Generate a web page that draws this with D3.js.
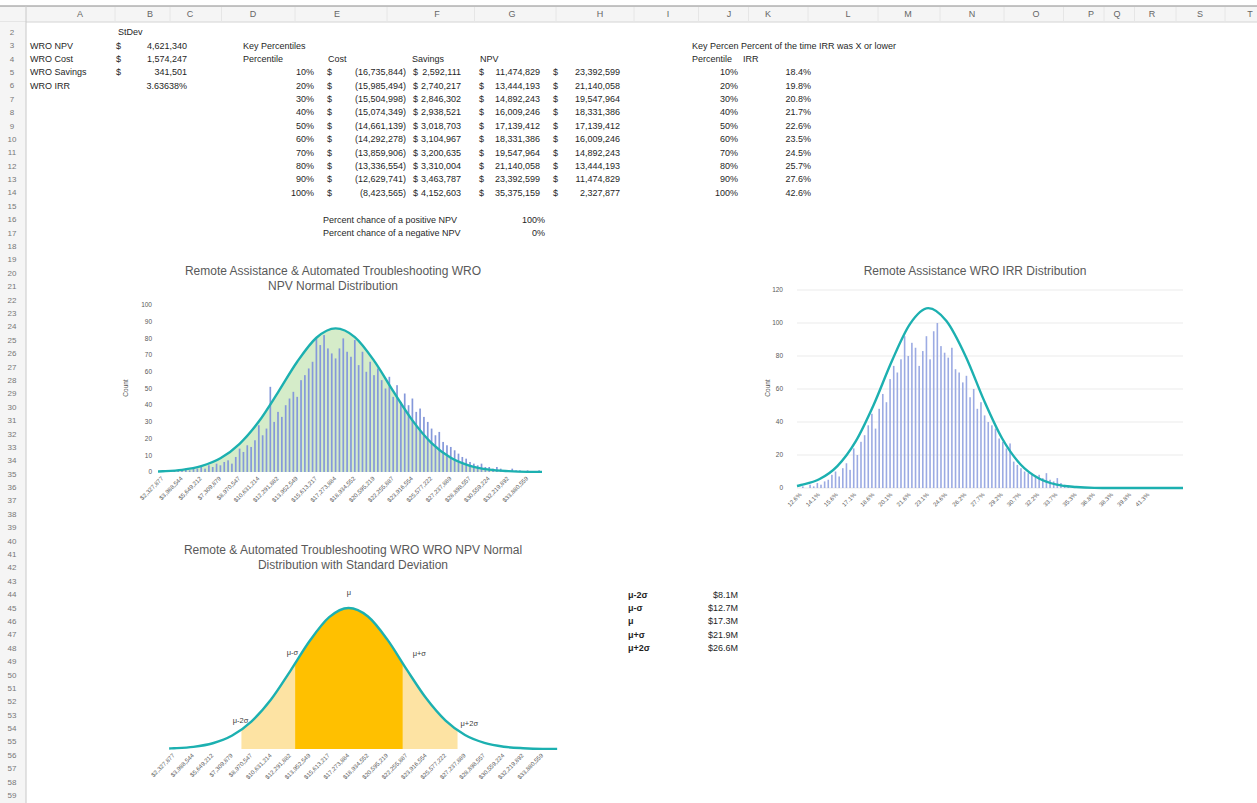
<!DOCTYPE html>
<html>
<head>
<meta charset="utf-8">
<script src="https://cdn.jsdelivr.net/npm/d3@7"></script>
<style>
  body { margin: 0; background: #fff; }
  text { font-family: "Liberation Sans", Arial, sans-serif; }
</style>
</head>
<body>
<svg id="sheet" width="1257" height="803"></svg>
<script>
// ---- sheet data ----
const columns = ["A","B","C","D","E","F","G","H","I","J","K","L","M","N","O","P","Q","R","S","T"];
const firstRow = 2, lastRow = 59;

const stdevLabels = ["WRO NPV", "WRO Cost", "WRO Savings", "WRO IRR"];
const stdevValues = [4621340, 1574247, 341501, 0.0363638];

const percentiles = [0.1, 0.2, 0.3, 0.4, 0.5, 0.6, 0.7, 0.8, 0.9, 1.0];
const costP = [-16735844, -15985494, -15504998, -15074349, -14661139, -14292278, -13859906, -13336554, -12629741, -8423565];
const savingsP = [2592111, 2740217, 2846302, 2938521, 3018703, 3104967, 3200635, 3310004, 3463787, 4152603];
const npvP = [11474829, 13444193, 14892243, 16009246, 17139412, 18331386, 19547964, 21140058, 23392599, 35375159];
const npvRevP = [23392599, 21140058, 19547964, 18331386, 17139412, 16009246, 14892243, 13444193, 11474829, 2327877];
const irrP = [0.184, 0.198, 0.208, 0.217, 0.226, 0.235, 0.245, 0.257, 0.276, 0.426];

const chanceLabels = ["Percent chance of a positive NPV", "Percent chance of a negative NPV"];
const chanceValues = [1, 0];

const sigmaLabels = ["μ-2σ", "μ-σ", "μ", "μ+σ", "μ+2σ"];
const sigmaValues = [8.1, 12.7, 17.3, 21.9, 26.6]; // $M

// ---- NPV histogram ----
const npvTicks = [2327877, 3988544, 5649212, 7309879, 8970547, 10631214, 12291882, 13952549, 15613217, 17273884,
  18934552, 20595219, 22255887, 23916554, 25577222, 27237889, 28898557, 30559224, 32219892, 33880559];
const npvBinStart = 2327877, npvBinWidth = 332133;
const npvCounts = [
  0, 1, 0, 1, 1, 1, 2, 1, 2, 2,
  3, 2, 4, 3, 5, 4, 6, 7, 5, 9,
  14, 12, 16, 15, 19, 28, 22, 26, 51, 30,
  36, 33, 40, 44, 48, 45, 55, 58, 62, 66,
  80, 76, 82, 74, 71, 68, 74, 80, 72, 69,
  79, 64, 72, 60, 66, 58, 62, 55, 50, 57,
  45, 52, 42, 47, 40, 44, 36, 38, 33, 30,
  26, 22, 24, 18, 16, 15, 13, 11, 9, 8,
  6, 5, 4, 5, 3, 3, 2, 3, 2, 1,
  1, 2, 1, 1, 0, 1, 0, 0, 1, 0
];
const npvCurveAt = [1912710].concat(npvTicks, [35126059]);
const npvCurve = [0.3, 0.44, 1.3, 3.5, 8.2, 16.9, 30.2, 47.7, 66.0, 80.4, 86.0, 80.8, 66.7, 48.4, 30.9, 17.3, 8.5, 3.7, 1.4, 0.5, 0.1, 0.05];

// ---- IRR histogram (percent) ----
const irrTicks = [12.6, 14.1, 15.6, 17.1, 18.6, 20.1, 21.6, 23.1, 24.6, 26.2, 27.7, 29.2, 30.7, 32.2, 33.7, 35.3, 36.8, 38.3, 39.8, 41.3];
const irrBinStart = 12.3, irrBinWidth = 0.3;
const irrCounts = [
  0, 1, 0, 2, 1, 3, 2, 4, 5, 8,
  10, 7, 12, 15, 11, 24, 20, 28, 32, 38,
  45, 36, 48, 57, 52, 66, 74, 70, 78, 92,
  80, 88, 85, 74, 83, 92, 78, 95, 100, 86,
  82, 79, 85, 72, 70, 64, 68, 55, 60, 48,
  52, 44, 40, 38, 36, 30, 28, 24, 27, 16,
  14, 12, 10, 9, 8, 7, 8, 6, 9, 5,
  4, 6, 3, 2, 1
];
const irrCurveAt = [12.27].concat(irrTicks, [44.12]);
const irrCurve = [1.2, 1.8, 5.3, 13.3, 28.1, 50.5, 77.0, 99.5, 109, 101.2, 79.6, 53.1, 30.0, 14.4, 5.9, 2.0, 0.6, 0.1, 0, 0, 0, 0];

// ---- layout ----
const svg = d3.select("#sheet");
const colCenters = [80, 150, 190, 253, 337, 437, 512, 600, 668, 729, 768, 848, 908, 972, 1036, 1091, 1117, 1152, 1200, 1250];
const rowY = r => 32 + (r - firstRow) * 13.39;
const ink = "#1f1f1f", grey = "#595959", teal = "#1cb0b0";
const fmt = d3.format(",");
const money = v => v < 0 ? `(${fmt(-v)})` : fmt(v);
const pct0 = d3.format(".0%"), pct1 = d3.format(".1%");

// header strip and row numbers
svg.append("rect").attr("x", 0).attr("y", 6).attr("width", 1257).attr("height", 16).attr("fill", "#f5f5f5");
svg.append("line").attr("x1", 0).attr("x2", 1257).attr("y1", 6).attr("y2", 6).attr("stroke", "#8a8a8a");
svg.append("line").attr("x1", 0).attr("x2", 1257).attr("y1", 22).attr("y2", 22).attr("stroke", "#d4d4d4");
svg.append("rect").attr("x", 0).attr("y", 22).attr("width", 26).attr("height", 781).attr("fill", "#f5f5f5");
svg.append("line").attr("x1", 26).attr("x2", 26).attr("y1", 6).attr("y2", 803).attr("stroke", "#c8c8c8");

svg.append("g").selectAll("line").data(d3.pairs(colCenters)).join("line")
  .attr("x1", d => (d[0] + d[1]) / 2).attr("x2", d => (d[0] + d[1]) / 2)
  .attr("y1", 7).attr("y2", 22).attr("stroke", "#e6e6e6");

svg.append("g").selectAll("text").data(columns).join("text")
  .attr("x", (d, i) => colCenters[i]).attr("y", 14).attr("dy", "0.35em")
  .attr("text-anchor", "middle").attr("font-size", 9).attr("fill", "#666").text(d => d);

svg.append("g").selectAll("text").data(d3.range(firstRow, lastRow + 1)).join("text")
  .attr("x", 12).attr("y", d => rowY(d)).attr("dy", "0.35em")
  .attr("text-anchor", "middle").attr("font-size", 8).attr("fill", "#777").text(d => d);

// cell text helper
const cells = svg.append("g").attr("font-size", 9).attr("fill", ink);
function cell(text, x, row, anchor = "start", weight = null) {
  cells.append("text").attr("x", x).attr("y", rowY(row)).attr("dy", "0.35em")
    .attr("text-anchor", anchor).attr("font-weight", weight).text(text);
}

// StDev block
cell("StDev", 118, 2);
stdevLabels.forEach((d, i) => {
  cell(d, 30, 3 + i);
  if (i < 3) {
    cell("$", 116, 3 + i);
    cell(fmt(stdevValues[i]), 187, 3 + i, "end");
  } else {
    cell(d3.format(".5%")(stdevValues[i]), 187, 3 + i, "end");
  }
});

// Key percentiles block
cell("Key Percentiles", 243, 3);
cell("Percentile", 243, 4);
cell("Cost", 328, 4);
cell("Savings", 412, 4);
cell("NPV", 480, 4);
percentiles.forEach((p, i) => {
  const r = 5 + i;
  cell(pct0(p), 314, r, "end");
  cell("$", 327, r); cell(money(costP[i]), 406, r, "end");
  cell("$", 413, r); cell(money(savingsP[i]), 461, r, "end");
  cell("$", 479, r); cell(money(npvP[i]), 540, r, "end");
  cell("$", 553, r); cell(money(npvRevP[i]), 620, r, "end");
});
chanceLabels.forEach((d, i) => {
  cell(d, 323, 16 + i);
  cell(pct0(chanceValues[i]), 545, 16 + i, "end");
});

// IRR percentile block
cell("Key Percen", 692, 3);
cell("Percent of the time IRR was X or lower", 741, 3);
cell("Percentile", 692, 4);
cell("IRR", 743, 4);
percentiles.forEach((p, i) => {
  cell(pct0(p), 738, 5 + i, "end");
  cell(pct1(irrP[i]), 811, 5 + i, "end");
});

// sigma block
sigmaLabels.forEach((d, i) => {
  cell(d, 628, 44 + i, "start", "bold");
  cell(`$${sigmaValues[i].toFixed(1)}M`, 738, 44 + i, "end");
});

// shared helpers
function title(lines, cx, y0) {
  svg.append("g").selectAll("text").data(lines).join("text")
    .attr("x", cx).attr("y", (d, i) => y0 + i * 15).attr("dy", "0.35em")
    .attr("text-anchor", "middle").attr("font-size", 12).attr("fill", grey).text(d => d);
}
function xLabels(ticks, x, y, fmtFn) {
  svg.append("g").selectAll("text").data(ticks).join("text")
    .attr("transform", d => `translate(${x(d) + 1},${y}) rotate(-45)`)
    .attr("text-anchor", "end").attr("font-size", 6).attr("fill", grey).text(fmtFn);
}
function yLabels(ticks, y, x) {
  svg.append("g").selectAll("text").data(ticks).join("text")
    .attr("x", x).attr("y", d => y(d)).attr("dy", "0.35em")
    .attr("text-anchor", "end").attr("font-size", 6.5).attr("fill", grey).text(d => d);
}
function countLabel(x, y) {
  svg.append("text").attr("transform", `translate(${x},${y}) rotate(-90)`)
    .attr("text-anchor", "middle").attr("font-size", 6.5).attr("fill", grey).text("Count");
}

// ---- Chart 1: NPV histogram ----
const x1 = d3.scaleLinear().domain([1912710, 35126059]).range([158, 542]);
const y1 = d3.scaleLinear().domain([0, 100]).range([472, 305]);
const npvPts = npvCurveAt.map((d, i) => [d, npvCurve[i]]);

title(["Remote Assistance & Automated Troubleshooting WRO", "NPV Normal Distribution"], 333, 271);
yLabels(d3.range(0, 101, 10), y1, 152);
countLabel(128, 388);

svg.append("path").datum(npvPts)
  .attr("fill", "#d5ecc9")
  .attr("d", d3.area().x(d => x1(d[0])).y0(y1(0)).y1(d => y1(d[1])).curve(d3.curveMonotoneX));

const bw1 = x1(npvBinWidth) - x1(0);
svg.append("g").selectAll("rect").data(npvCounts).join("rect")
  .attr("x", (d, k) => x1(npvBinStart + k * npvBinWidth) - bw1 * 0.22)
  .attr("width", bw1 * 0.44)
  .attr("y", d => y1(d)).attr("height", d => y1(0) - y1(d))
  .attr("fill", "#8598da");

svg.append("path").datum(npvPts)
  .attr("fill", "none").attr("stroke", teal).attr("stroke-width", 2.4)
  .attr("d", d3.line().x(d => x1(d[0])).y(d => y1(d[1])).curve(d3.curveMonotoneX));

xLabels(npvTicks, x1, 479, d => "$" + fmt(d));

// ---- Chart 2: IRR histogram ----
const x2 = d3.scaleLinear().domain([12.27, 44.12]).range([797, 1183]);
const y2 = d3.scaleLinear().domain([0, 120]).range([488, 290]);
const irrPts = irrCurveAt.map((d, i) => [d, irrCurve[i]]);

title(["Remote Assistance WRO IRR Distribution"], 975, 271);
svg.append("g").selectAll("line").data(d3.range(0, 121, 20)).join("line")
  .attr("x1", 797).attr("x2", 1183).attr("y1", d => y2(d)).attr("y2", d => y2(d))
  .attr("stroke", "#e6e6e6").attr("stroke-width", 0.8);
yLabels(d3.range(0, 121, 20), y2, 783);
countLabel(770, 388);

const bw2 = x2(irrBinWidth) - x2(0);
svg.append("g").selectAll("rect").data(irrCounts).join("rect")
  .attr("x", (d, k) => x2(irrBinStart + k * irrBinWidth) + bw2 * 0.28)
  .attr("width", bw2 * 0.44)
  .attr("y", d => y2(d)).attr("height", d => y2(0) - y2(d))
  .attr("fill", "#9cabe3");

svg.append("path").datum(irrPts)
  .attr("fill", "none").attr("stroke", teal).attr("stroke-width", 2.4)
  .attr("d", d3.line().x(d => x2(d[0])).y(d => y2(d[1])).curve(d3.curveMonotoneX));

xLabels(irrTicks, x2, 495, d => d.toFixed(1) + "%");

// ---- Chart 3: NPV normal with sigma bands ----
const x3 = d3.scaleLinear().domain([1985471, 35370011]).range([170, 560]);
const y3 = d3.scaleLinear().domain([0, 86]).range([749, 608]);
const area3 = d3.area().x(d => x3(d[0])).y0(y3(0)).y1(d => y3(d[1])).curve(d3.curveMonotoneX);

title(["Remote & Automated Troubleshooting WRO WRO NPV Normal", "Distribution with Standard Deviation"], 353, 550);

const defs = svg.append("defs");
const bands = [
  { id: "band2", lo: sigmaValues[0], hi: sigmaValues[4], fill: "#fde3a3" },
  { id: "band1", lo: sigmaValues[1], hi: sigmaValues[3], fill: "#ffc000" }
];
bands.forEach(b => {
  defs.append("clipPath").attr("id", b.id).append("rect")
    .attr("x", x3(b.lo * 1e6)).attr("width", x3(b.hi * 1e6) - x3(b.lo * 1e6))
    .attr("y", 550).attr("height", 210);
  svg.append("path").datum(npvPts).attr("clip-path", `url(#${b.id})`)
    .attr("fill", b.fill).attr("d", area3);
});

svg.append("path").datum(npvPts)
  .attr("fill", "none").attr("stroke", teal).attr("stroke-width", 2.4)
  .attr("d", d3.line().x(d => x3(d[0])).y(d => y3(d[1])).curve(d3.curveMonotoneX));

// curve height at a value (linear between read points)
function curveAt(v) {
  const i = Math.max(1, d3.bisectLeft(npvCurveAt, v));
  const t = (v - npvCurveAt[i - 1]) / (npvCurveAt[i] - npvCurveAt[i - 1]);
  return npvCurve[i - 1] + t * (npvCurve[i] - npvCurve[i - 1]);
}
const sigmaPlace = [
  { dx: 7, dy: -8, anchor: "end" },
  { dx: 3, dy: -11, anchor: "end" },
  { dx: 0, dy: -16, anchor: "middle" },
  { dx: 10, dy: -10, anchor: "start" },
  { dx: 3, dy: -6, anchor: "start" }
];
svg.append("g").selectAll("text").data(sigmaLabels).join("text")
  .attr("x", (d, i) => x3(sigmaValues[i] * 1e6) + sigmaPlace[i].dx)
  .attr("y", (d, i) => y3(curveAt(sigmaValues[i] * 1e6)) + sigmaPlace[i].dy)
  .attr("dy", "0.35em").attr("text-anchor", (d, i) => sigmaPlace[i].anchor)
  .attr("font-size", 7.5).attr("fill", "#404040").text(d => d);

xLabels(npvTicks, x3, 756, d => "$" + fmt(d));
</script>
</body>
</html>
